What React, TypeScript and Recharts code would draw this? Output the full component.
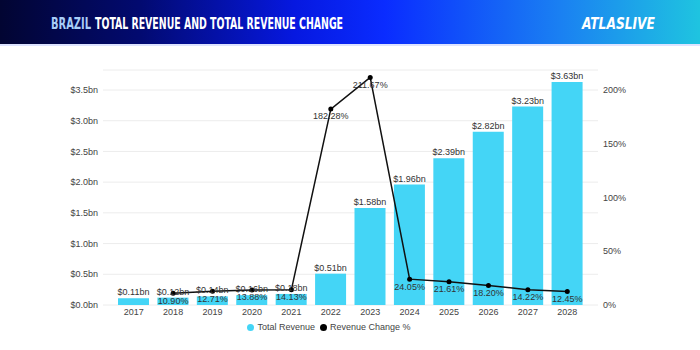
import React from 'react';
import { ComposedChart, Bar, Line, XAxis, YAxis, CartesianGrid, LabelList, Legend } from 'recharts';

const years = ['2017', '2018', '2019', '2020', '2021', '2022', '2023', '2024', '2025', '2026', '2027', '2028'];
const totalRevenue = [0.11, 0.12, 0.14, 0.16, 0.18, 0.51, 1.58, 1.96, 2.39, 2.82, 3.23, 3.63];
const revenueChange: (number | null)[] = [null, 10.9, 12.71, 13.88, 14.13, 182.28, 211.67, 24.05, 21.61, 18.2, 14.22, 12.45];
const leftTicks = [0, 0.5, 1, 1.5, 2, 2.5, 3, 3.5];
const rightTicks = [0, 50, 100, 150, 200];

const data = years.map((y, i) => ({ year: y, revenue: totalRevenue[i], change: revenueChange[i] }));

const BAR_COLOR = '#44D5F6';
const FONT = 'Arial, "Liberation Sans", sans-serif';
const HEAD_FONT = '"DejaVu Sans Condensed", "DejaVu Sans", sans-serif';

const LegendContent = () => (
  <div style={{ display: 'flex', justifyContent: 'center', alignItems: 'center', height: 16, fontFamily: FONT, fontSize: 9, color: '#444' }}>
    <span style={{ display: 'inline-block', width: 7, height: 7, borderRadius: 4, background: BAR_COLOR, marginRight: 3 }} />
    <span style={{ marginRight: 5 }}>Total Revenue</span>
    <span style={{ display: 'inline-block', width: 7, height: 7, borderRadius: 4, background: '#000', marginRight: 3 }} />
    <span>Revenue Change %</span>
  </div>
);

export default function App() {
  return (
    <div style={{ position: 'fixed', left: 0, top: 0, width: 700, height: 350, background: '#fff', overflow: 'hidden' }}>
      <div
        style={{
          position: 'absolute', left: 0, top: 0, width: 700, height: 44,
          background: 'linear-gradient(90deg, #020532 0%, #020a70 20%, #0618e0 42%, #0a2cff 55%, #1a80f2 80%, #1fc4e0 100%)',
          borderBottom: '2px solid #dde3ff',
        }}
      >
        <svg width={700} height={44} style={{ position: 'absolute', left: 0, top: 0 }}>
          <text x={51} y={29} textLength={40} lengthAdjust="spacingAndGlyphs" fontFamily={HEAD_FONT} fontWeight={700} fontSize={16} fill="#a8cdf7">
            BRAZIL
          </text>
          <text x={95} y={29} textLength={248} lengthAdjust="spacingAndGlyphs" fontFamily={HEAD_FONT} fontWeight={700} fontSize={16} fill="#fff">
            TOTAL REVENUE AND TOTAL REVENUE CHANGE
          </text>
          <text x={582} y={29} textLength={73} lengthAdjust="spacingAndGlyphs" fontFamily={HEAD_FONT} fontWeight={700} fontStyle="italic" fontSize={16} fill="#fff">
            ATLASLIVE
          </text>
        </svg>
      </div>
      <div style={{ position: 'absolute', left: 0, top: 0 }}>
        <ComposedChart width={700} height={340} data={data} margin={{ top: 70, right: 42, bottom: 5, left: 0 }}>
          <CartesianGrid yAxisId="left" vertical={false} stroke="#ececec" />
          <XAxis dataKey="year" axisLine={false} tickLine={false} height={14} tickSize={0} tickMargin={4}
            padding={{ left: 11, right: 11 }} tick={{ fontSize: 9, fill: '#444', fontFamily: FONT }} interval={0} />
          <YAxis yAxisId="left" width={103} domain={[0, 3.5 * 235 / 215]} ticks={leftTicks} axisLine={false} tickLine={false}
            tickSize={0} tickMargin={5} tickFormatter={(v: number) => `$${v.toFixed(1)}bn`} tick={{ fontSize: 9, fill: '#444', fontFamily: FONT }} />
          <YAxis yAxisId="right" orientation="right" width={60} domain={[0, 200 * 235 / 215]} ticks={rightTicks} axisLine={false} tickLine={false}
            tickSize={0} tickMargin={5} tickFormatter={(v: number) => `${v}%`} tick={{ fontSize: 9, fill: '#444', fontFamily: FONT }} />
          <Bar yAxisId="left" dataKey="revenue" name="Total Revenue" fill={BAR_COLOR} barSize={31} isAnimationActive={false}>
            <LabelList dataKey="revenue" position="top" offset={3} formatter={(v: number) => `$${v.toFixed(2)}bn`}
              style={{ fontSize: 9, fill: '#333', fontFamily: FONT }} />
          </Bar>
          <Line yAxisId="right" dataKey="change" name="Revenue Change %" stroke="#111" strokeWidth={1.5}
            dot={{ r: 2.5, fill: '#000', stroke: '#000', strokeWidth: 0 }} isAnimationActive={false}>
            <LabelList dataKey="change" position="bottom" offset={4} formatter={(v: number) => (v == null ? '' : `${v.toFixed(2)}%`)}
              style={{ fontSize: 9, fill: '#333', fontFamily: FONT }} />
          </Line>
          <Legend verticalAlign="bottom" height={16} content={<LegendContent />} />
        </ComposedChart>
      </div>
    </div>
  );
}
